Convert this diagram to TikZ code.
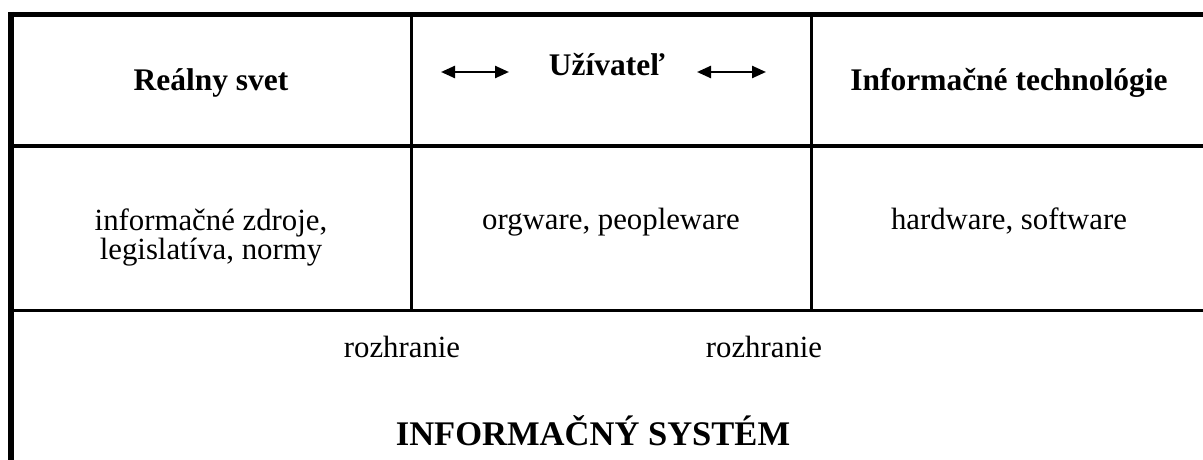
\documentclass[tikz,border=0pt]{standalone}
\usepackage{fontspec}
\setmainfont{Liberation Serif}
\usetikzlibrary{arrows.meta}
\begin{document}
\begin{tikzpicture}[x=0.75pt,y=-0.75pt,
  frame/.style={line width=4.3pt},
  topline/.style={line width=3.4pt},
  grid/.style={line width=2.5pt},
  head/.style={anchor=base,inner sep=0pt,font=\fontsize{23.6}{28}\selectfont\bfseries},
  cell/.style={anchor=base,inner sep=0pt,font=\fontsize{23.1}{28}\selectfont},
  title/.style={anchor=base,inner sep=0pt,font=\fontsize{25.9}{31}\selectfont\bfseries},
  twoway/.style={line width=1.8pt,{Triangle[length=10.5pt,width=9pt]}-{Triangle[length=10.5pt,width=9pt]}}]
\useasboundingbox (0,0) rectangle (1203,460);

% outer frame: left edge and top edge
\draw[frame] (11,12) -- (11,460);
\draw[topline] (8,14.25) -- (1203,14.25);

% grid lines
\draw[grid] (11,146) -- (1203,146);
\draw[grid] (11,310.5) -- (1203,310.5);
\draw[grid] (411.5,14) -- (411.5,310.5);
\draw[grid] (811.5,14) -- (811.5,310.5);

% header row
\node[head] (real) at (211,91) {Reálny svet};
\node[head] (user) at (607,76) {Užívateľ};
\node[head] (it) at (1009,91) {Informačné technológie};

% arrows on either side of the user
\coordinate (la) at (441,72);
\coordinate (lb) at (509,72);
\coordinate (ra) at (697,72);
\coordinate (rb) at (766,72);
\draw[twoway] (la) -- (lb);
\draw[twoway] (ra) -- (rb);

% second row
\node[cell] (res1) at (211,230) {informačné zdroje,};
\node[cell] (res2) at (211,259) {legislatíva, normy};
\node[cell] (org) at (611,229) {orgware, peopleware};
\node[cell] (hw) at (1009,229) {hardware, software};

% bottom band
\node[cell] (if1) at (402,357) {rozhranie};
\node[cell] (if2) at (764,357) {rozhranie};
\node[title] (is) at (593,445) {INFORMAČNÝ SYSTÉM};
\end{tikzpicture}
\end{document}
